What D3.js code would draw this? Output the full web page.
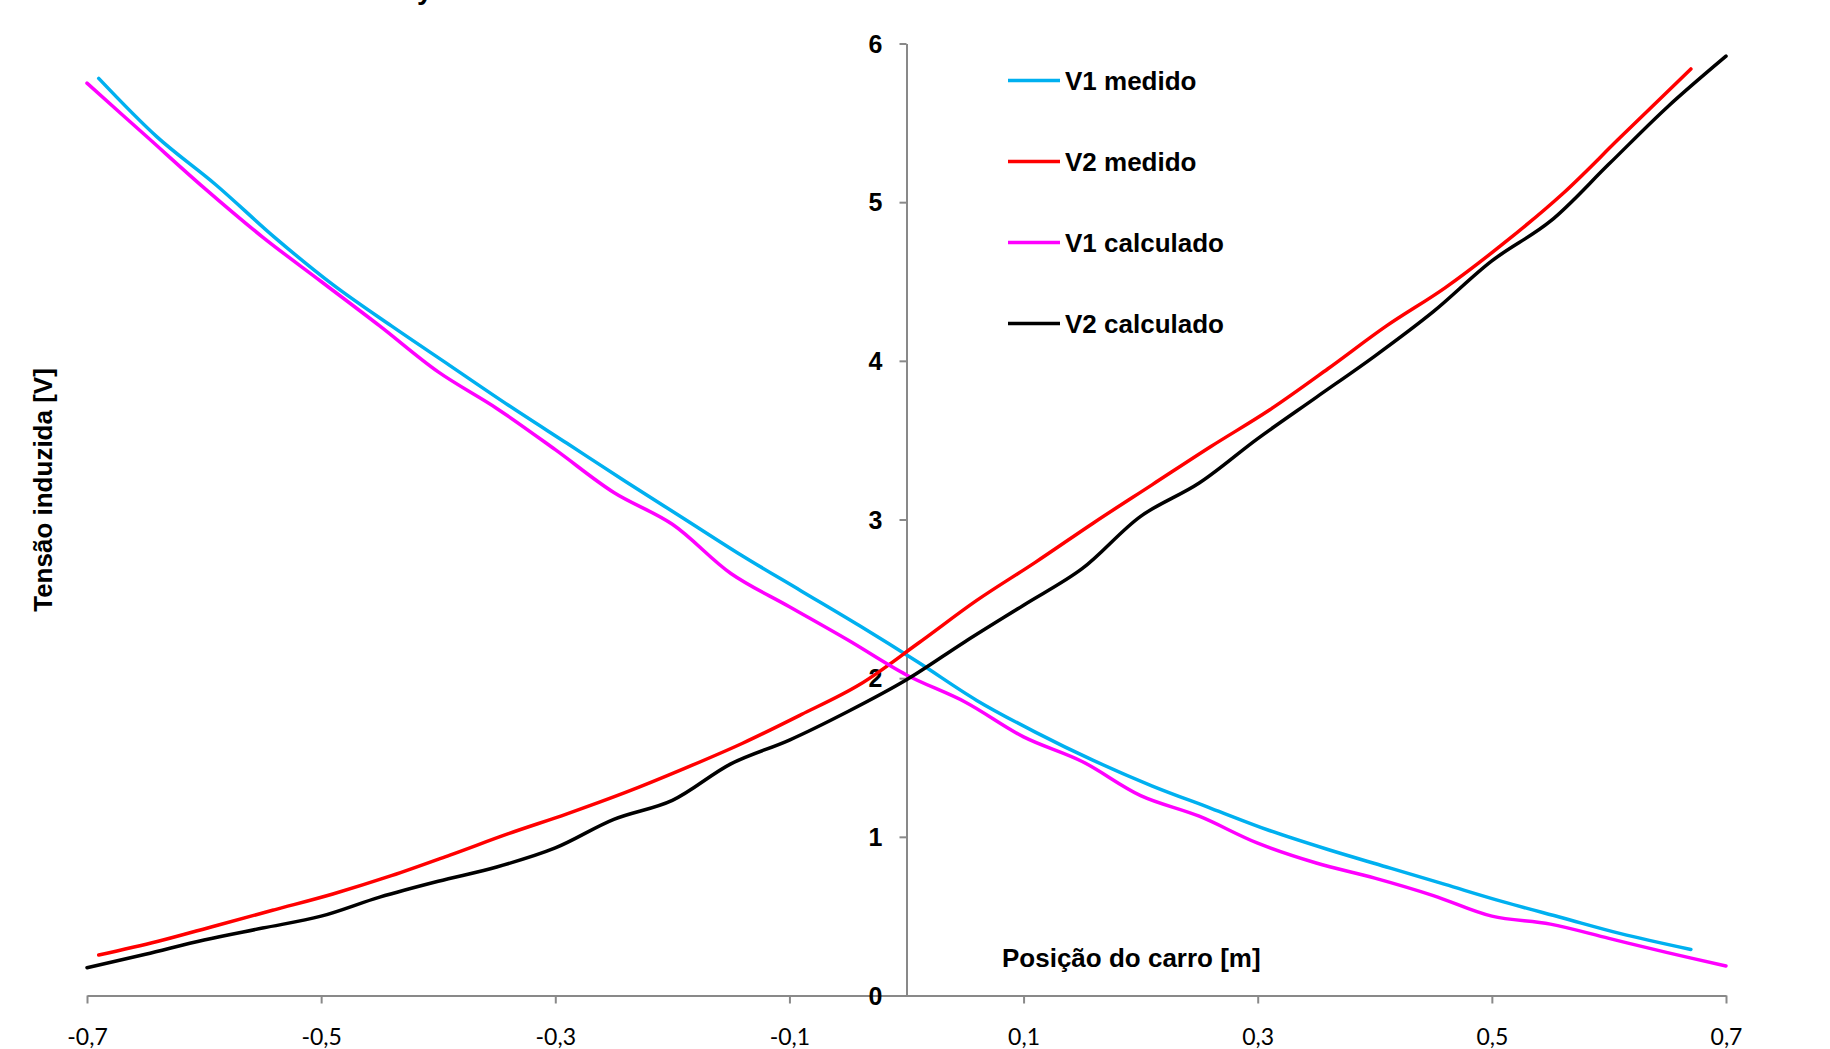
<!DOCTYPE html>
<html>
<head>
<meta charset="utf-8">
<script src="https://cdn.jsdelivr.net/npm/d3@7"></script>
<style>
  html, body { margin: 0; padding: 0; background: #fff; }
  svg { display: block; }
</style>
</head>
<body>
<svg id="chart" width="1830" height="1049"></svg>
<script>
// Car position [m] for the calculated curves and for the measured curves
const posCalc = [-0.70, -0.65, -0.60, -0.55, -0.50, -0.45, -0.40, -0.35, -0.30, -0.25,
                 -0.20, -0.15, -0.10, -0.05, 0.00, 0.05, 0.10, 0.15, 0.20, 0.25,
                 0.30, 0.35, 0.40, 0.45, 0.50, 0.55, 0.60, 0.65, 0.70];
const posMeas = [-0.69, -0.64, -0.59, -0.54, -0.49, -0.44, -0.39, -0.34, -0.29, -0.24,
                 -0.19, -0.14, -0.09, -0.04, 0.01, 0.06, 0.11, 0.16, 0.21, 0.26,
                 0.31, 0.36, 0.41, 0.46, 0.51, 0.56, 0.61, 0.67];

// Induced voltage [V]
const v1Medido = [5.78, 5.41, 5.11, 4.78, 4.48, 4.22, 3.97, 3.72, 3.48, 3.24,
                  3.005, 2.77, 2.55, 2.33, 2.10, 1.86, 1.66, 1.48, 1.32, 1.18,
                  1.04, 0.92, 0.81, 0.70, 0.59, 0.49, 0.39, 0.29];
const v2Medido = [0.255, 0.34, 0.44, 0.54, 0.64, 0.755, 0.885, 1.02, 1.145, 1.28,
                  1.43, 1.59, 1.77, 1.96, 2.22, 2.49, 2.73, 2.98, 3.22, 3.46,
                  3.69, 3.95, 4.22, 4.46, 4.74, 5.05, 5.41, 5.84];
const v1Calculado = [5.75, 5.42, 5.09, 4.78, 4.50, 4.22, 3.93, 3.70, 3.44, 3.17,
                     2.97, 2.66, 2.45, 2.24, 2.02, 1.85, 1.63, 1.475, 1.26, 1.13,
                     0.96, 0.835, 0.74, 0.63, 0.50, 0.45, 0.36, 0.27, 0.186];
const v2Calculado = [0.175, 0.26, 0.35, 0.425, 0.50, 0.62, 0.72, 0.81, 0.93, 1.11,
                     1.23, 1.46, 1.61, 1.79, 1.99, 2.23, 2.46, 2.69, 3.02, 3.23,
                     3.51, 3.77, 4.03, 4.31, 4.63, 4.88, 5.24, 5.60, 5.92];

const seriesNames = ["V1 medido", "V2 medido", "V1 calculado", "V2 calculado"];
const seriesColors = ["#00B0F0", "#FF0000", "#FF00FF", "#000000"];

const xTicks = [-0.7, -0.5, -0.3, -0.1, 0.1, 0.3, 0.5, 0.7];
const yTicks = [0, 1, 2, 3, 4, 5, 6];

const xTitle = "Posição do carro [m]";
const yTitle = "Tensão induzida [V]";

const series = [
  { name: seriesNames[0], color: seriesColors[0], x: posMeas, y: v1Medido },
  { name: seriesNames[1], color: seriesColors[1], x: posMeas, y: v2Medido },
  { name: seriesNames[2], color: seriesColors[2], x: posCalc, y: v1Calculado },
  { name: seriesNames[3], color: seriesColors[3], x: posCalc, y: v2Calculado }
];

const boldFont = "'Liberation Sans', Arial, Helvetica, sans-serif";
const axisGray = "#898989";

const svg = d3.select("#chart");

const x = d3.scaleLinear().domain([-0.7, 0.7]).range([87, 1726]);
const y = d3.scaleLinear().domain([0, 6]).range([995.5, 43.5]);

const ptBR = d3.formatLocale({ decimal: ",", thousands: ".", grouping: [3], currency: ["", ""], minus: "-" });
const fmtX = ptBR.format(".1f");

// Heading above the plot; only the descender reaches into view
svg.append("text")
  .attr("x", 417).attr("y", -1)
  .attr("font-family", boldFont).attr("font-weight", "bold").attr("font-size", 28)
  .attr("fill", "#000")
  .text("y");

// Horizontal axis along V = 0
const gx = svg.append("g")
  .attr("transform", `translate(0,${y(0)})`)
  .call(d3.axisBottom(x).tickValues(xTicks).tickFormat(fmtX).tickSize(8).tickSizeOuter(0).tickPadding(25));
gx.select(".domain").attr("stroke", axisGray).attr("stroke-width", 2);
gx.selectAll(".tick line").attr("stroke", axisGray).attr("stroke-width", 2);
gx.selectAll(".tick text")
  .attr("font-family", "Lato, 'Open Sans', sans-serif")
  .attr("font-size", 23).attr("fill", "#000");

// Vertical axis through position 0
const gy = svg.append("g")
  .attr("transform", `translate(${x(0)},0)`)
  .call(d3.axisLeft(y).tickValues(yTicks).tickFormat(d3.format("d")).tickSize(7).tickSizeOuter(0).tickPadding(17));
gy.select(".domain").attr("stroke", axisGray).attr("stroke-width", 2);
gy.selectAll(".tick line").attr("stroke", axisGray).attr("stroke-width", 2);
gy.selectAll(".tick text")
  .attr("font-family", boldFont).attr("font-weight", "bold")
  .attr("font-size", 25).attr("fill", "#000").attr("dy", "0.35em");

// Axis titles
svg.append("text")
  .attr("x", 1002).attr("y", 967)
  .attr("font-family", boldFont).attr("font-weight", "bold").attr("font-size", 26)
  .attr("fill", "#000")
  .text(xTitle);

svg.append("text")
  .attr("transform", "translate(52,490) rotate(-90)")
  .attr("text-anchor", "middle")
  .attr("font-family", boldFont).attr("font-weight", "bold").attr("font-size", 26)
  .attr("fill", "#000")
  .text(yTitle);

// Smoothed voltage curves
const line = d3.line()
  .x(d => x(d[0]))
  .y(d => y(d[1]))
  .curve(d3.curveCatmullRom.alpha(0.5));

svg.append("g").selectAll("path")
  .data(series)
  .join("path")
  .attr("d", s => line(s.x.map((px, i) => [px, s.y[i]])))
  .attr("fill", "none")
  .attr("stroke", s => s.color)
  .attr("stroke-width", 3.5)
  .attr("stroke-linecap", "round")
  .attr("stroke-linejoin", "round");

// Legend
const legend = svg.append("g").attr("transform", "translate(1008,80.5)");
const rows = legend.selectAll("g")
  .data(series)
  .join("g")
  .attr("transform", (d, i) => `translate(0,${i * 81})`);
rows.append("line")
  .attr("x1", 0).attr("x2", 52).attr("y1", 0).attr("y2", 0)
  .attr("stroke", d => d.color).attr("stroke-width", 3.5);
rows.append("text")
  .attr("x", 57).attr("y", 0).attr("dy", "0.36em")
  .attr("font-family", boldFont).attr("font-weight", "bold").attr("font-size", 26)
  .attr("fill", "#000")
  .text(d => d.name);
</script>
</body>
</html>
